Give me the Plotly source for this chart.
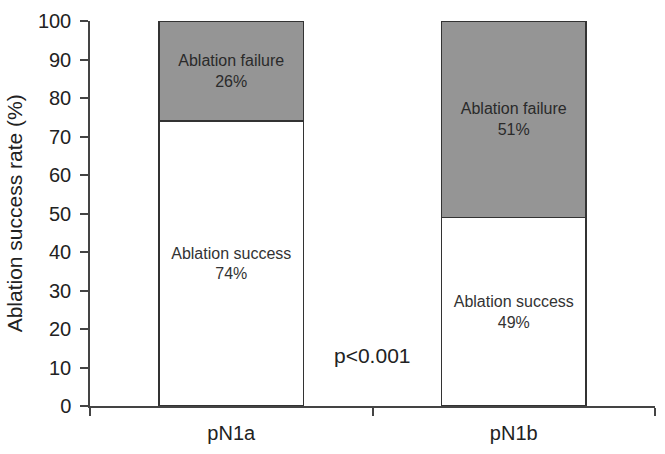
import plotly.graph_objects as go

categories = ["pN1a", "pN1b"]
success = [74, 49]
failure = [26, 51]
success_labels = ["Ablation success<br>74%", "Ablation success<br>49%"]
failure_labels = ["Ablation failure<br>26%", "Ablation failure<br>51%"]
y_ticks = [0, 10, 20, 30, 40, 50, 60, 70, 80, 90, 100]

FONT = "Liberation Sans, Arial, sans-serif"

fig = go.Figure()
fig.add_trace(go.Bar(
    x=categories, y=success, text=success_labels, width=0.51,
    marker=dict(color="white", line=dict(color="#333333", width=1.5)),
    textposition="inside", insidetextanchor="middle", textangle=0,
    constraintext="none",
    textfont=dict(family=FONT, size=16, color="#333333"),
    hoverinfo="skip",
))
fig.add_trace(go.Bar(
    x=categories, y=failure, text=failure_labels, width=0.51,
    marker=dict(color="#959595", line=dict(color="#333333", width=1.5)),
    textposition="inside", insidetextanchor="middle", textangle=0,
    constraintext="none",
    textfont=dict(family=FONT, size=16, color="#2a2a2a"),
    hoverinfo="skip",
))

fig.add_annotation(x=0.5, y=13, xref="x", yref="y", text="p<0.001", showarrow=False,
                   font=dict(family=FONT, size=21, color="#222222"))

# y-axis title as rotated annotation
fig.add_annotation(x=-0.133, y=0.5, xref="paper", yref="paper",
                   text="Ablation success rate (%)", textangle=-90, showarrow=False,
                   xanchor="center", yanchor="middle",
                   font=dict(family=FONT, size=21, color="#222222"))

fig.update_layout(
    barmode="stack",
    width=665, height=454,
    margin=dict(l=90, r=10, t=13, b=46),
    plot_bgcolor="white", paper_bgcolor="white",
    showlegend=False,
    font=dict(family=FONT, color="#222222"),
)
fig.update_xaxes(
    type="category", range=[-0.5, 1.5],
    showline=True, linecolor="#444444", linewidth=1.5,
    ticks="outside", tickson="boundaries", ticklen=8, tickcolor="#444444", tickwidth=1.5,
    tickfont=dict(size=20, color="#222222"), showgrid=False,
    ticklabelstandoff=8,
)
fig.update_yaxes(
    range=[0, 100], tickvals=y_ticks,
    showline=True, linecolor="#444444", linewidth=1.5,
    ticks="outside", ticklen=8, tickcolor="#444444", tickwidth=1.5,
    tickfont=dict(size=20, color="#222222"), showgrid=False, zeroline=False,
    ticklabelstandoff=5,
)

fig.write_html("out.html")
